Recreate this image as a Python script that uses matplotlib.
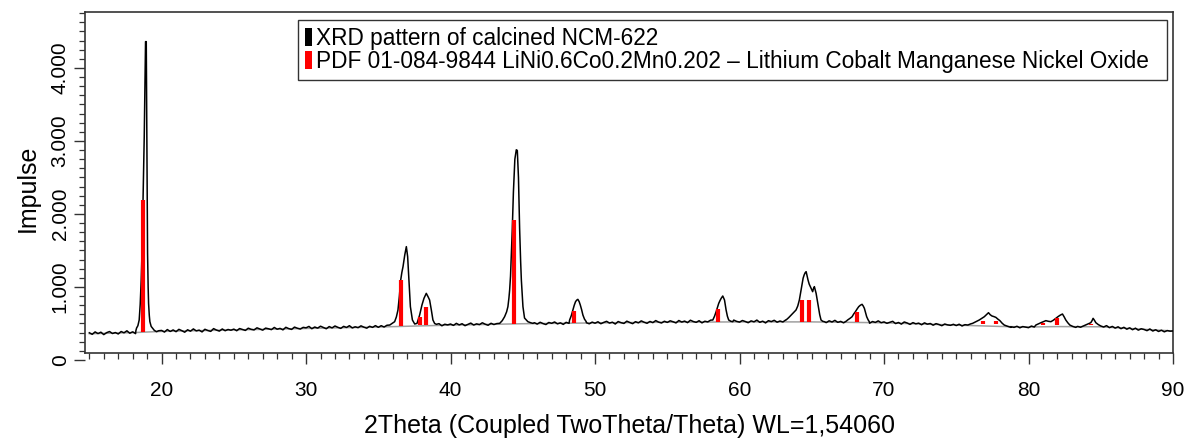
import numpy as np
import matplotlib
matplotlib.use("Agg")
import matplotlib.pyplot as plt
from matplotlib.patches import Patch
from matplotlib.ticker import MultipleLocator, FuncFormatter

plt.rcParams['font.family'] = ['Liberation Sans', 'DejaVu Sans']

# measured scan between the peaks, 0.2 deg steps from 15 to 90 deg
bg_start = 15.0
bg_step = 0.2
bg_counts = (
    [373, 352, 385, 362, 381, 348, 375, 390, 363, 376, 357, 390, 373, 400, 367, 386, 361, 392, 381, 400, 377, 410, 371, 388, 401]
    + [405, 383, 417, 391, 412, 388, 420, 402, 381, 414, 395, 426, 399, 409, 385, 421, 404, 392, 430, 410, 396, 425, 401, 418, 408]
    + [423, 401, 431, 418, 405, 436, 420, 412, 441, 425, 409, 437, 428, 416, 446, 422, 433, 413, 448, 430, 419, 451, 435, 424, 447]
    + [441, 460, 429, 452, 437, 463, 445, 428, 458, 440, 466, 448, 433, 461, 446, 470, 439, 455, 443, 468, 450, 436, 462, 447, 471]
    + [448, 470, 452, 476, 463, 480, 471, 486, 474, 492, 478, 495, 482, 499, 487, 502, 490, 505, 494, 508, 475, 498, 469, 490, 481]
    + [493, 474, 502, 481, 497, 470, 488, 506, 479, 495, 485, 510, 490, 476, 503, 486, 499, 480, 508, 492, 501, 512, 495, 505, 498]
    + [510, 500, 505, 498, 511, 492, 517, 499, 486, 514, 503, 521, 495, 509, 488, 516, 502, 520, 507, 493, 515, 500, 511, 496, 519]
    + [504, 524, 497, 515, 530, 506, 518, 493, 527, 511, 501, 532, 514, 498, 525, 509, 536, 517, 503, 528, 512, 540, 519, 507, 531]
    + [515, 537, 524, 508, 541, 520, 533, 512, 545, 527, 516, 538, 509, 531, 522, 546, 518, 535, 526, 540, 514, 536, 523, 547, 529]
    + [519, 541, 527, 511, 536, 523, 547, 516, 532, 508, 539, 526, 544, 518, 534, 521, 549, 530, 538, 545, 552, 540, 548, 535, 550]
    + [530, 540, 535, 525, 520, 512, 537, 521, 543, 516, 529, 509, 534, 522, 540, 518, 526, 545, 520, 531, 504, 527, 515, 536, 511]
    + [522, 503, 517, 530, 499, 514, 492, 521, 507, 488, 512, 496, 505, 483, 509, 491, 500, 477, 498, 486, 470, 493, 481, 475, 489]
    + [472, 490, 466, 484, 479, 495, 486, 480, 475, 470, 465, 460, 455, 450, 445, 440, 438, 436, 434, 455, 447, 462, 441, 458, 450]
    + [443, 465, 452, 470, 458, 475, 480, 490, 500, 510, 520, 530, 540, 550, 500, 470, 442, 460, 449, 466, 470, 480, 490, 500, 480]
    + [466, 452, 471, 443, 460, 437, 455, 429, 448, 422, 441, 415, 436, 409, 428, 418, 402, 425, 397, 414, 391, 408, 386, 403, 395]
    + [398]
)

# peak regions (2theta, counts)
peak_003 = [(18.22, 400), (18.27, 438), (18.36, 470), (18.45, 548), (18.52, 760), (18.59, 1096),
            (18.65, 1500), (18.69, 1918), (18.75, 2500), (18.80, 3059), (18.85, 3800), (18.89, 4361),
            (18.94, 4361), (18.98, 3014), (19.01, 2100), (19.03, 1461), (19.07, 1000), (19.10, 776),
            (19.15, 610), (19.19, 525), (19.28, 460), (19.38, 434), (19.50, 405), (19.65, 388)]
peak_101 = [(35.79, 479), (35.95, 500), (36.13, 525), (36.25, 590), (36.36, 685), (36.46, 880),
            (36.55, 1096), (36.63, 1200), (36.71, 1279), (36.83, 1438), (36.94, 1553), (37.03, 1416),
            (37.12, 1096), (37.22, 731), (37.36, 548), (37.52, 493), (37.68, 502), (37.86, 616),
            (38.02, 753), (38.16, 845), (38.32, 913), (38.44, 868), (38.55, 822), (38.67, 685),
            (38.78, 548), (38.90, 500), (39.02, 489)]
peak_104 = [(43.40, 502), (43.58, 540), (43.74, 593), (43.88, 660), (43.97, 731), (44.04, 850),
            (44.09, 959), (44.15, 1150), (44.20, 1416), (44.27, 1781), (44.35, 2300), (44.45, 2750),
            (44.55, 2880), (44.62, 2870), (44.70, 2500), (44.78, 1800), (44.85, 1350), (44.90, 1096),
            (45.01, 731), (45.12, 575), (45.35, 525), (45.55, 510), (45.70, 502)]
peak_105 = [(48.24, 548), (48.36, 610), (48.47, 685), (48.56, 750), (48.65, 799), (48.73, 820),
            (48.81, 831), (48.90, 800), (48.98, 753), (49.07, 690), (49.16, 616), (49.27, 560),
            (49.39, 525)]
peak_107 = [(58.15, 548), (58.27, 600), (58.38, 662), (58.47, 720), (58.56, 776), (58.65, 815),
            (58.73, 845), (58.84, 877), (58.96, 822), (59.07, 685), (59.16, 600), (59.25, 548),
            (59.40, 530), (59.53, 525)]
peak_108 = [(63.22, 548), (63.40, 580), (63.57, 616), (63.74, 650), (63.91, 685), (64.03, 740),
            (64.14, 822), (64.24, 940), (64.33, 1050), (64.40, 1120), (64.47, 1164), (64.54, 1195),
            (64.61, 1210), (64.68, 1150), (64.74, 1096), (64.82, 1040), (64.90, 1005), (64.98, 970),
            (65.06, 936), (65.12, 980), (65.18, 1005), (65.24, 960), (65.30, 913), (65.38, 820),
            (65.46, 731), (65.55, 620), (65.64, 548), (65.76, 530), (65.87, 525)]
peak_113 = [(67.48, 548), (67.64, 570), (67.79, 593), (67.90, 630), (68.02, 662), (68.14, 700),
            (68.25, 731), (68.36, 750), (68.48, 763), (68.56, 740), (68.64, 708), (68.72, 650),
            (68.80, 593), (68.90, 550), (68.98, 525)]
peak_201 = [(76.13, 502), (76.36, 525), (76.59, 548), (76.76, 570), (76.94, 593), (77.08, 620),
            (77.23, 648), (77.35, 620), (77.47, 603), (77.60, 595), (77.74, 584), (77.88, 560),
            (78.02, 539), (78.17, 505), (78.32, 479), (78.55, 462), (78.78, 447)]
peak_116 = [(80.51, 479), (80.68, 495), (80.86, 511), (81.03, 525), (81.20, 539), (81.38, 530),
            (81.55, 525), (81.72, 545), (81.89, 571), (82.05, 595), (82.20, 615), (82.35, 630),
            (82.47, 590), (82.58, 548), (82.72, 510), (82.86, 479), (83.06, 460), (83.27, 447)]
peak_024 = [(83.97, 479), (84.14, 495), (84.31, 511), (84.40, 540), (84.47, 571), (84.56, 545),
            (84.66, 511), (84.83, 485), (85.00, 466)]
peaks = [peak_003, peak_101, peak_104, peak_105, peak_107, peak_108, peak_113,
         peak_201, peak_116, peak_024]

# fitted background (grey line)
bgline_2theta = [15, 18, 20, 25, 30, 35, 40, 45, 50, 55, 60, 65, 70, 75, 78, 80, 82, 85, 88, 90]
bgline_counts = [360, 375, 392, 412, 432, 452, 478, 497, 508, 518, 522, 522, 510, 478, 460, 452,
                 458, 455, 420, 398]

# PDF 01-084-9844 reference sticks
stick_2theta = [18.69, 36.60, 37.91, 38.32, 44.36, 48.53, 58.54, 64.30, 64.83, 68.10,
                76.82, 77.74, 80.99, 81.99, 84.31]
stick_top = [2192, 1096, 584, 721, 1918, 671, 699, 822, 822, 662, 530, 530, 510, 575, 500]
stick_base = [385, 465, 475, 478, 495, 505, 523, 525, 525, 520, 490, 488, 479, 479, 475]

# merge scan: drop background points inside peak regions
bg_x = bg_start + bg_step * np.arange(len(bg_counts))
bg_y = np.array(bg_counts, dtype=float)
keep = np.ones(len(bg_x), dtype=bool)
for seg in peaks:
    xs = [p[0] for p in seg]
    keep &= ~((bg_x >= min(xs) - 1e-9) & (bg_x <= max(xs) + 1e-9))
px = np.concatenate([bg_x[keep]] + [np.array([p[0] for p in s]) for s in peaks])
py = np.concatenate([bg_y[keep]] + [np.array([p[1] for p in s], dtype=float) for s in peaks])
order = np.argsort(px)
px, py = px[order], py[order]

W, H = 1189, 442
fig = plt.figure(figsize=(W / 100, H / 100), dpi=100)

ax_l, ax_r, ax_t, ax_b = 85, 1173, 12, 353
ymax = 4767
ymin_box = 96
y0_px = 360

# separate y-axis so that the 0 tick can sit just below the frame
ay = fig.add_axes([ax_l / W, 1 - y0_px / H, (ax_r - ax_l) / W, (y0_px - ax_t) / H])
ay.set_ylim(0, ymax)
ay.patch.set_visible(False)
for s in ay.spines.values():
    s.set_visible(False)
ay.set_xticks([])
ay.yaxis.set_major_locator(MultipleLocator(1000))
ay.yaxis.set_minor_locator(MultipleLocator(125))
ay.yaxis.set_major_formatter(FuncFormatter(lambda v, p: f"{int(v):,}".replace(",", ".")))
ay.tick_params(axis='y', which='major', length=8, width=1.0, color='#333333',
               labelsize=15, pad=3, labelrotation=90)
ay.tick_params(axis='y', which='minor', length=4.5, width=0.9, color='#333333')
for t in ay.get_yticklabels():
    t.set_va('center')

ax = fig.add_axes([ax_l / W, 1 - ax_b / H, (ax_r - ax_l) / W, (ax_b - ax_t) / H])
ax.set_xlim(14.7, 90)
ax.set_ylim(ymin_box, ymax)

ax.plot(bgline_2theta, bgline_counts, color='#a0a0a0', lw=1.1, zorder=2)
ax.plot(px, py, color='black', lw=1.1, zorder=3)
ax.vlines(stick_2theta, stick_base, stick_top, colors='#ff0000', lw=3.0, zorder=4)

for s in ax.spines.values():
    s.set_color('#333333')
    s.set_linewidth(1.2)
ax.tick_params(left=False, labelleft=False)
ax.xaxis.set_major_locator(MultipleLocator(10))
ax.xaxis.set_minor_locator(MultipleLocator(1))
ax.tick_params(axis='x', which='major', length=8, width=1.0, color='#333333',
               labelsize=15, pad=12)
ax.tick_params(axis='x', which='minor', length=4.5, width=0.9, color='#333333')
ax.set_xlabel('2Theta (Coupled TwoTheta/Theta) WL=1,54060', fontsize=18, labelpad=10)

fig.text(28 / W, 1 - 188 / H, 'Impulse', rotation=90, fontsize=18, ha='center', va='center')

handles = [Patch(facecolor='black', edgecolor='none'),
           Patch(facecolor='#ff0000', edgecolor='none')]
labels = ['XRD pattern of calcined NCM-622',
          'PDF 01-084-9844 LiNi0.6Co0.2Mn0.202 \u2013 Lithium Cobalt Manganese Nickel Oxide']
lx0 = (298 - ax_l) / (ax_r - ax_l)
lx1 = (1167 - ax_l) / (ax_r - ax_l)
ly1 = (ax_b - 20) / (ax_b - ax_t)
leg = ax.legend(handles, labels, loc='upper left', mode='expand',
                bbox_to_anchor=(lx0, ly1 - 0.2, lx1 - lx0, 0.2), borderaxespad=0,
                fontsize=16.3, handlelength=0.32, handleheight=0.8, handletextpad=0.18,
                labelspacing=0.0, borderpad=0.3, fancybox=False, framealpha=1)
leg.get_frame().set_edgecolor('#333333')
leg.get_frame().set_linewidth(1.0)

fig.savefig('out.png', dpi=100)
